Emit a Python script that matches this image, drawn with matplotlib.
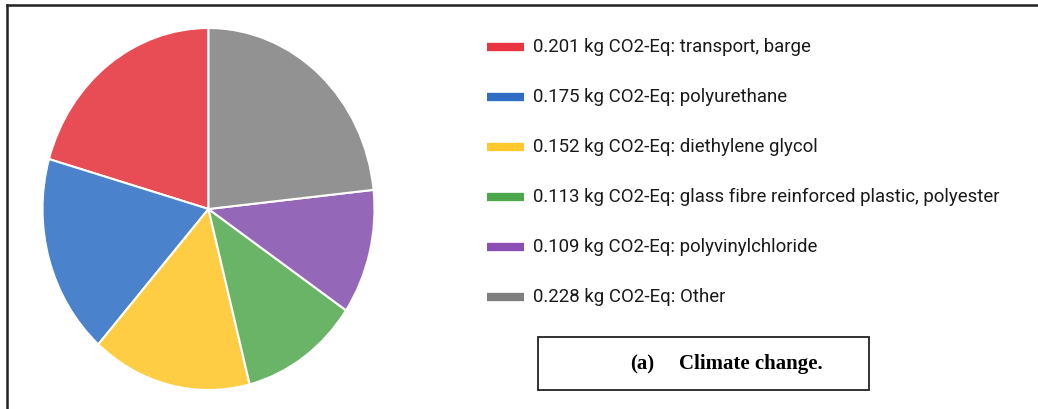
import matplotlib.pyplot as plt
from matplotlib.lines import Line2D
from matplotlib.patches import Rectangle

W, H = 1038, 409

values = [0.201, 0.175, 0.152, 0.113, 0.109, 0.228]
names = ['transport, barge', 'polyurethane', 'diethylene glycol',
         'glass fibre reinforced plastic, polyester', 'polyvinylchloride', 'Other']
pie_colors = ['#e84c55', '#4a83cb', '#fecd44', '#6ab467', '#9467b8', '#929292']
legend_colors = ['#e8353f', '#2f6cc4', '#ffc82c', '#4ca64c', '#8a4fb4', '#7f7f7f']
caption_tag = '(a)'
caption = 'Climate change.'

fig = plt.figure(figsize=(W / 100, H / 100), dpi=100)

def fx(px):
    return px / W

def fy(py):
    return 1 - py / H

# pie is a bit squashed sideways in the source picture
cx, cy, rx, ry = 208.5, 209, 166, 181
ax = fig.add_axes([fx(cx - rx), fy(cy + ry), 2 * rx / W, 2 * ry / H])
ax.pie(values, colors=pie_colors, startangle=90, counterclock=True,
       radius=1, wedgeprops=dict(edgecolor='white', linewidth=1.5))
ax.set_xlim(-1, 1)
ax.set_ylim(-1, 1)
ax.set_aspect('auto')
ax.axis('off')

# legend drawn by hand
for i, (v, n) in enumerate(zip(values, names)):
    y = 47 + 50 * i
    fig.add_artist(Line2D([fx(487), fx(524)], [fy(y), fy(y)],
                          color=legend_colors[i], linewidth=6, solid_capstyle='butt'))
    fig.text(fx(533), fy(y), f'{v:.3f} kg CO2-Eq: {n}', fontsize=13.4,
             family='Roboto', va='center', ha='left', color='#1a1a1a')

# frame lines (left and top)
fig.add_artist(Line2D([fx(7), fx(7)], [fy(5), 0], color='#222222', linewidth=1.8))
fig.add_artist(Line2D([fx(7), 1], [fy(5), fy(5)], color='#222222', linewidth=1.8))

# caption box
fig.add_artist(Rectangle((fx(538), fy(390)), fx(869) - fx(538), fy(337) - fy(390),
                         transform=fig.transFigure, fill=False,
                         edgecolor='#222222', linewidth=1.3))
fig.text(fx(630), fy(364), caption_tag, fontsize=15, family='Liberation Serif',
         weight='bold', va='center', ha='left')
fig.text(fx(679), fy(364), caption, fontsize=15, family='Liberation Serif',
         weight='bold', va='center', ha='left')

fig.savefig('out.png', dpi=100)
